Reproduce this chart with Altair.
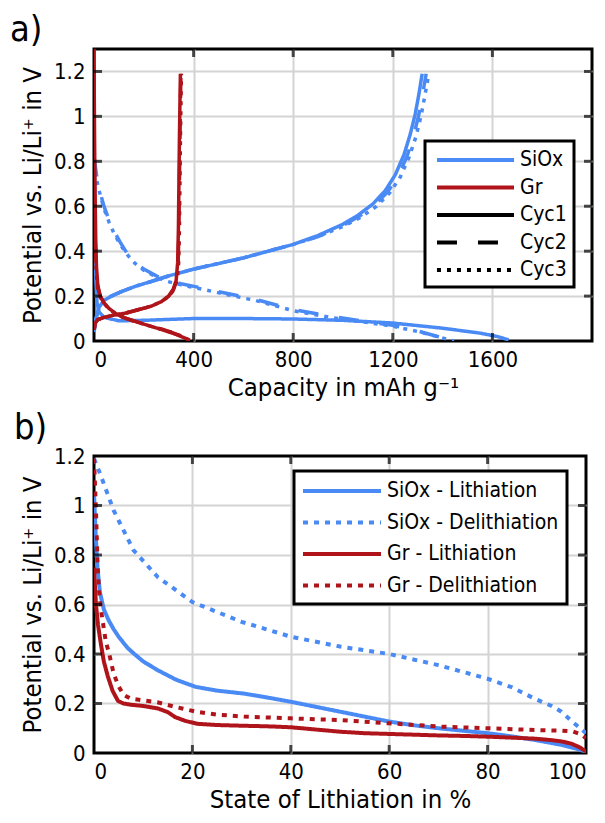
import altair as alt
import pandas as pd

FONT = "Liberation Sans Narrow, DejaVu Sans Condensed, Roboto, sans-serif"
BLUE = "#4A8AF4"
RED = "#B0141B"

# ---------------- Panel a: capacity (mAh/g) vs potential (V) ----------------
siox_lith_c1_cap = [0, 2, 4, 7, 12, 20, 40, 100, 200, 400, 600, 800, 1000, 1200, 1400, 1550, 1620, 1665]
siox_lith_c1_v = [0.95, 0.7, 0.45, 0.28, 0.17, 0.13, 0.105, 0.09, 0.092, 0.1, 0.1, 0.098, 0.092, 0.08, 0.057, 0.035, 0.02, 0.005]

siox_lith_c2_cap = [0, 10, 25, 40, 60, 80, 105, 133, 165, 200, 250, 295, 350, 416, 541, 650, 800, 950, 1100, 1200, 1300, 1380, 1440]
siox_lith_c2_v = [0.82, 0.74, 0.66, 0.6, 0.54, 0.49, 0.44, 0.39, 0.35, 0.32, 0.29, 0.27, 0.255, 0.24, 0.21, 0.185, 0.14, 0.11, 0.085, 0.07, 0.045, 0.02, 0.0]

siox_lith_c3_cap = [0, 10, 25, 40, 60, 80, 105, 133, 165, 200, 250, 295, 350, 416, 541, 650, 800, 950, 1100, 1200, 1300, 1385, 1446]
siox_lith_c3_v = [0.8, 0.72, 0.65, 0.59, 0.53, 0.48, 0.43, 0.385, 0.345, 0.315, 0.285, 0.265, 0.25, 0.235, 0.205, 0.18, 0.135, 0.105, 0.082, 0.066, 0.042, 0.018, 0.0]

siox_delith_c1_cap = [0, 8, 20, 40, 70, 110, 170, 230, 300, 400, 500, 600, 700, 800, 900, 1000, 1060, 1120, 1170, 1210, 1245, 1270, 1290, 1305, 1318]
siox_delith_c1_v = [0.04, 0.1, 0.15, 0.18, 0.2, 0.22, 0.245, 0.265, 0.29, 0.32, 0.345, 0.37, 0.4, 0.43, 0.47, 0.52, 0.56, 0.61, 0.67, 0.74, 0.83, 0.92, 1.01, 1.1, 1.19]

siox_delith_c2_cap = [0, 8, 20, 40, 70, 110, 170, 230, 300, 400, 500, 600, 700, 800, 900, 1000, 1065, 1128, 1180, 1222, 1258, 1284, 1304, 1320, 1334]
siox_delith_c2_v = [0.04, 0.1, 0.15, 0.18, 0.2, 0.22, 0.245, 0.265, 0.29, 0.32, 0.345, 0.37, 0.4, 0.43, 0.465, 0.515, 0.555, 0.605, 0.665, 0.735, 0.825, 0.915, 1.005, 1.1, 1.19]

siox_delith_c3_cap = [0, 8, 20, 40, 70, 110, 170, 230, 300, 400, 500, 600, 700, 800, 900, 1000, 1070, 1135, 1188, 1230, 1266, 1293, 1313, 1330, 1345]
siox_delith_c3_v = [0.04, 0.1, 0.15, 0.18, 0.2, 0.22, 0.245, 0.265, 0.29, 0.32, 0.345, 0.37, 0.4, 0.43, 0.465, 0.51, 0.55, 0.6, 0.66, 0.73, 0.82, 0.91, 1.0, 1.1, 1.19]

gr_lith_c1_cap = [0, 1, 3, 5, 7, 10, 15, 25, 40, 60, 90, 130, 180, 230, 280, 320, 350, 372, 385]
gr_lith_c1_v = [1.3, 1.1, 0.8, 0.6, 0.45, 0.33, 0.25, 0.2, 0.17, 0.145, 0.12, 0.1, 0.082, 0.065, 0.048, 0.033, 0.02, 0.01, 0.003]

gr_lith_c2_cap = [0, 2, 4, 7, 10, 15, 25, 40, 60, 90, 130, 180, 230, 280, 320, 350, 368, 378]
gr_lith_c2_v = [0.8, 0.62, 0.48, 0.37, 0.3, 0.24, 0.2, 0.17, 0.145, 0.12, 0.1, 0.083, 0.066, 0.05, 0.035, 0.022, 0.012, 0.003]

gr_lith_c3_cap = [0, 2, 4, 7, 10, 15, 25, 40, 60, 90, 130, 180, 230, 280, 320, 350, 370, 382]
gr_lith_c3_v = [0.78, 0.6, 0.47, 0.36, 0.29, 0.235, 0.195, 0.168, 0.143, 0.118, 0.098, 0.082, 0.065, 0.05, 0.036, 0.023, 0.012, 0.003]

gr_delith_c1_cap = [0, 5, 15, 40, 80, 130, 180, 230, 270, 300, 318, 330, 336, 339, 341, 343, 345, 347]
gr_delith_c1_v = [0.05, 0.08, 0.095, 0.105, 0.115, 0.125, 0.14, 0.155, 0.175, 0.2, 0.23, 0.27, 0.35, 0.5, 0.7, 0.9, 1.05, 1.19]

gr_delith_c2_cap = [0, 5, 15, 40, 80, 130, 180, 230, 270, 300, 320, 332, 338, 341, 343, 345, 347, 349]
gr_delith_c2_v = [0.05, 0.08, 0.095, 0.105, 0.115, 0.125, 0.14, 0.155, 0.175, 0.2, 0.23, 0.27, 0.35, 0.5, 0.7, 0.9, 1.05, 1.19]

gr_delith_c3_cap = [0, 5, 15, 40, 80, 130, 180, 230, 270, 302, 322, 334, 340, 343, 345, 347, 349, 351]
gr_delith_c3_v = [0.05, 0.08, 0.095, 0.105, 0.115, 0.125, 0.14, 0.155, 0.175, 0.2, 0.23, 0.27, 0.35, 0.5, 0.7, 0.9, 1.05, 1.19]

a_curves = [
    ("SiOx", "Cyc1", "lith", siox_lith_c1_cap, siox_lith_c1_v),
    ("SiOx", "Cyc2", "lith", siox_lith_c2_cap, siox_lith_c2_v),
    ("SiOx", "Cyc3", "lith", siox_lith_c3_cap, siox_lith_c3_v),
    ("SiOx", "Cyc1", "delith", siox_delith_c1_cap, siox_delith_c1_v),
    ("SiOx", "Cyc2", "delith", siox_delith_c2_cap, siox_delith_c2_v),
    ("SiOx", "Cyc3", "delith", siox_delith_c3_cap, siox_delith_c3_v),
    ("Gr", "Cyc1", "lith", gr_lith_c1_cap, gr_lith_c1_v),
    ("Gr", "Cyc2", "lith", gr_lith_c2_cap, gr_lith_c2_v),
    ("Gr", "Cyc3", "lith", gr_lith_c3_cap, gr_lith_c3_v),
    ("Gr", "Cyc1", "delith", gr_delith_c1_cap, gr_delith_c1_v),
    ("Gr", "Cyc2", "delith", gr_delith_c2_cap, gr_delith_c2_v),
    ("Gr", "Cyc3", "delith", gr_delith_c3_cap, gr_delith_c3_v),
]

a_legend_domain = ["SiOx", "Gr", "Cyc1", "Cyc2", "Cyc3"]
a_legend_colors = [BLUE, RED, "black", "black", "black"]
a_legend_dashes = [[1, 0], [1, 0], [1, 0], [20, 21], [4, 6]]

a_x_ticks = [0, 400, 800, 1200, 1600]
a_y_ticks = [0, 0.2, 0.4, 0.6, 0.8, 1.0, 1.2]
a_x_inner = [400, 800, 1200, 1600]
a_y_inner = [0.2, 0.4, 0.6, 0.8, 1.0, 1.2]

# ---------------- Panel b: state of lithiation (%) vs potential (V) ----------------
b_siox_lith_sol = [0, 0.3, 0.7, 1.2, 2, 3, 4, 5, 6.8, 8.2, 10, 12.9, 16.8, 20.7, 25, 30.5, 35, 40, 45, 50, 55, 60, 65, 70, 75, 80, 85, 89.5, 95, 98, 100]
b_siox_lith_v = [1.05, 0.9, 0.75, 0.65, 0.58, 0.535, 0.5, 0.47, 0.425, 0.4, 0.37, 0.335, 0.295, 0.267, 0.252, 0.24, 0.225, 0.207, 0.187, 0.167, 0.147, 0.127, 0.112, 0.1, 0.09, 0.08, 0.067, 0.053, 0.033, 0.018, 0.005]

b_siox_delith_sol = [0, 1.4, 4, 8, 13, 20, 30, 40, 50, 60, 70, 80, 85, 89.5, 93, 95, 97, 98.5, 100]
b_siox_delith_v = [1.19, 1.12, 0.98, 0.82, 0.71, 0.61, 0.53, 0.47, 0.43, 0.4, 0.355, 0.3, 0.265, 0.22, 0.19, 0.167, 0.13, 0.105, 0.08]

b_gr_lith_sol = [0, 0.4, 0.8, 1.4, 2, 2.8, 3.8, 4.9, 6, 7.5, 10, 13, 15, 16.5, 18.5, 21, 25, 30.5, 35, 40, 45, 50, 55, 60, 65, 70, 75, 80, 85, 89.5, 93, 95, 97, 98.8, 100]
b_gr_lith_v = [0.75, 0.6, 0.52, 0.44, 0.37, 0.31, 0.25, 0.21, 0.2, 0.195, 0.19, 0.18, 0.165, 0.145, 0.13, 0.118, 0.113, 0.11, 0.108, 0.104, 0.095, 0.086, 0.08, 0.077, 0.074, 0.071, 0.069, 0.066, 0.062, 0.058, 0.052, 0.047, 0.038, 0.022, 0.006]

b_gr_delith_sol = [0, 0.4, 0.7, 1.0, 1.4, 2.4, 3.1, 4, 5, 6, 7.4, 11, 12.9, 16.8, 20.7, 25, 30.5, 40, 50, 60, 70, 80, 89.5, 95, 97.3, 99, 100]
b_gr_delith_v = [1.19, 0.98, 0.78, 0.66, 0.58, 0.45, 0.4, 0.32, 0.27, 0.235, 0.22, 0.21, 0.205, 0.185, 0.167, 0.155, 0.147, 0.14, 0.133, 0.12, 0.107, 0.1, 0.093, 0.09, 0.087, 0.075, 0.06]

b_series = ["SiOx - Lithiation", "SiOx - Delithiation", "Gr - Lithiation", "Gr - Delithiation"]
b_colors = [BLUE, BLUE, RED, RED]
b_dashes = [[1, 0], [5, 6], [1, 0], [5, 6]]

b_x_ticks = [0, 20, 40, 60, 80, 100]
b_y_ticks = [0, 0.2, 0.4, 0.6, 0.8, 1.0, 1.2]
b_x_inner = [20, 40, 60, 80]
b_y_inner = [0.2, 0.4, 0.6, 0.8, 1.0]

# ---------------- build tables ----------------
rows = []
for mat, cyc, kind, xs, ys in a_curves:
    for i, (x, y) in enumerate(zip(xs, ys)):
        rows.append({"cap": x, "V": y, "material": mat, "cycle": cyc,
                     "curve": f"{mat}-{cyc}-{kind}", "i": i})
df_a = pd.DataFrame(rows)

rows = []
for name, xs, ys in zip(b_series,
                        [b_siox_lith_sol, b_siox_delith_sol, b_gr_lith_sol, b_gr_delith_sol],
                        [b_siox_lith_v, b_siox_delith_v, b_gr_lith_v, b_gr_delith_v]):
    for i, (x, y) in enumerate(zip(xs, ys)):
        rows.append({"sol": x, "V": y, "series": name, "i": i})
df_b = pd.DataFrame(rows)

W_A, H_A = 498, 292
W_B, H_B = 492, 297

LINE_SYMBOL = "M-4,0L4,0"
TICK_FS = 22
TITLE_FS = 25.5
LEG_FS = 21


def grid_cond(lo, hi):
    return {"condition": {"test": f"datum.value <= {lo} || datum.value >= {hi}", "value": 0}, "value": 1}


def inward_ticks(xfield, yfield, xvals, yvals, xscale, yscale, w, h):
    tx = pd.DataFrame({xfield: xvals})
    ty = pd.DataFrame({yfield: yvals})
    base_x = alt.Chart(tx).mark_tick(color="black", thickness=3)
    base_y = alt.Chart(ty).mark_tick(color="black", thickness=3)
    layers = []
    for yp in (4, h - 4):
        layers.append(base_x.encode(x=alt.X(f"{xfield}:Q", scale=xscale),
                                    y=alt.value(yp), size=alt.value(8)))
    for xp in (4, w - 4):
        layers.append(base_y.encode(y=alt.Y(f"{yfield}:Q", scale=yscale),
                                    x=alt.value(xp), size=alt.value(8)))
    return layers


# ---- panel a ----
xs_a = alt.Scale(domain=[0, 2000], nice=False, zero=False)
ys_a = alt.Scale(domain=[0, 1.3], nice=False, zero=False)

leg_a = dict(title=None, orient="none", legendX=331, legendY=92, padding=7,
             strokeColor="black", fillColor="white",
             labelFont=FONT, labelFontSize=LEG_FS, labelColor="black", labelAlign="left",
             symbolType=LINE_SYMBOL, symbolSize=371, symbolStrokeWidth=4,
             symbolOffset=31.5, labelOffset=32.5, rowPadding=5.5)

lines_a = alt.Chart(df_a).mark_line(strokeWidth=3.5, clip=True).encode(
    x=alt.X("cap:Q", scale=xs_a,
            axis=alt.Axis(values=a_x_ticks, format="d", title="Capacity in mAh g\u207b\u00b9",
                          gridOpacity=grid_cond(0, 2000))),
    y=alt.Y("V:Q", scale=ys_a,
            axis=alt.Axis(values=a_y_ticks, format=".1~f",
                          title="Potential vs. Li/Li\u207a in V",
                          gridOpacity=grid_cond(0, 1.3))),
    color=alt.Color("material:N",
                    scale=alt.Scale(domain=a_legend_domain, range=a_legend_colors),
                    legend=alt.Legend(**leg_a)),
    strokeDash=alt.StrokeDash("cycle:N",
                              scale=alt.Scale(domain=a_legend_domain, range=a_legend_dashes),
                              legend=alt.Legend(**leg_a)),
    detail="curve:N",
    order="i:Q",
)

panel_a = alt.layer(lines_a, *inward_ticks("cap", "V", a_x_inner, a_y_inner, xs_a, ys_a, W_A, H_A)).properties(
    width=W_A, height=H_A,
    title=alt.TitleParams("a)", anchor="start", frame="group", dx=-84, fontSize=36,
                          font=FONT, fontWeight="normal", color="black", offset=0),
)

# ---- panel b ----
xs_b = alt.Scale(domain=[0, 100], nice=False, zero=False)
ys_b = alt.Scale(domain=[0, 1.2], nice=False, zero=False)

leg_b = dict(title=None, orient="none", legendX=200, legendY=15, padding=8,
             strokeColor="black", fillColor="white",
             labelFont=FONT, labelFontSize=LEG_FS, labelColor="black", labelLimit=400,
             labelAlign="left",
             symbolType=LINE_SYMBOL, symbolSize=380, symbolStrokeWidth=4,
             symbolOffset=28, labelOffset=33, rowPadding=9.5)

lines_b = alt.Chart(df_b).mark_line(strokeWidth=4, clip=True).encode(
    x=alt.X("sol:Q", scale=xs_b,
            axis=alt.Axis(values=b_x_ticks, title="State of Lithiation in %",
                          gridOpacity=grid_cond(0, 100))),
    y=alt.Y("V:Q", scale=ys_b,
            axis=alt.Axis(values=b_y_ticks, format=".1~f",
                          title="Potential vs. Li/Li\u207a in V",
                          gridOpacity=grid_cond(0, 1.2))),
    color=alt.Color("series:N", scale=alt.Scale(domain=b_series, range=b_colors),
                    legend=alt.Legend(**leg_b)),
    strokeDash=alt.StrokeDash("series:N", scale=alt.Scale(domain=b_series, range=b_dashes),
                              legend=alt.Legend(**leg_b)),
    order="i:Q",
)

panel_b = alt.layer(lines_b, *inward_ticks("sol", "V", b_x_inner, b_y_inner, xs_b, ys_b, W_B, H_B)).properties(
    width=W_B, height=H_B,
    title=alt.TitleParams("b)", anchor="start", frame="group", dx=-80, fontSize=36,
                          font=FONT, fontWeight="normal", color="black", offset=-2),
)

chart = alt.vconcat(panel_a, panel_b, spacing=6).resolve_scale(
    color="independent", strokeDash="independent", x="independent", y="independent"
).resolve_legend(
    color="independent", strokeDash="independent"
).properties(
    padding={"left": 8, "top": 10, "right": 0, "bottom": 4},
    background="white",
).configure_view(
    stroke="black", strokeWidth=3,
).configure_legend(
    strokeWidth=3, cornerRadius=0,
).configure_axis(
    labelFont=FONT, labelFontSize=TICK_FS, labelColor="black",
    titleFont=FONT, titleFontSize=TITLE_FS, titleFontWeight="normal", titleColor="black",
    ticks=False, domain=False, gridColor="#d4d4d4", gridWidth=2,
    labelPadding=9, titlePadding=8,
).configure_axisX(
    labelPadding=8, titlePadding=5,
)

chart.save("out.html", embed_options={"renderer": "svg", "actions": False})
